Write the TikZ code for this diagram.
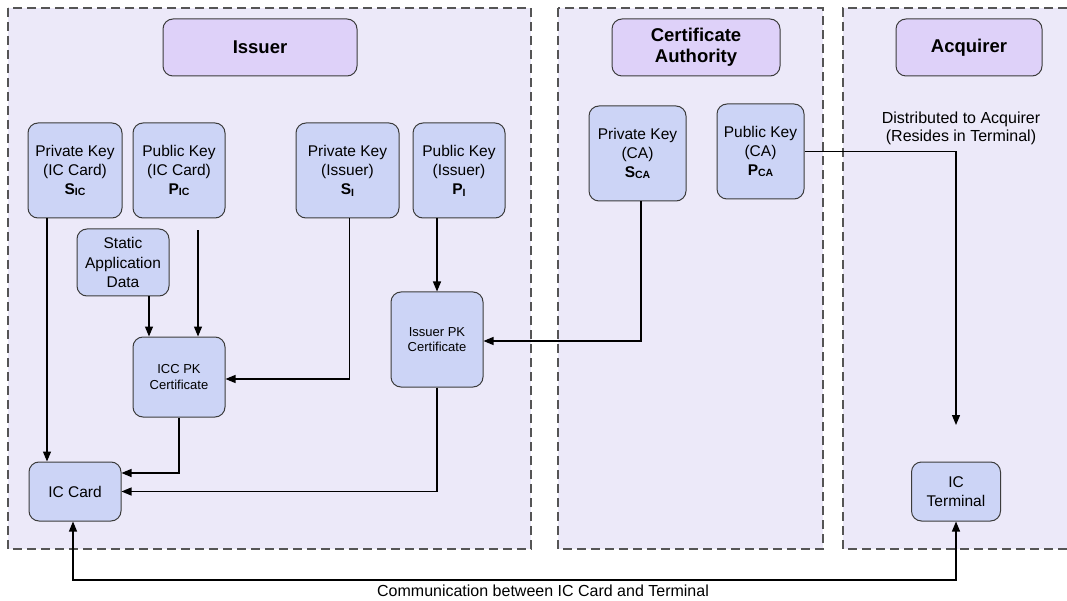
\documentclass[tikz,border=0pt]{standalone}
\usepackage{fontspec}
\setmainfont{Liberation Sans}
\usetikzlibrary{arrows.meta}
\definecolor{panelfill}{HTML}{ECE9F9}
\definecolor{titlefill}{HTML}{DED1F9}
\definecolor{keyfill}{HTML}{CCD4F6}
\definecolor{edge}{HTML}{3C3C3C}
\definecolor{dashc}{HTML}{555555}
\newcommand{\keysub}[2]{\textbf{#1}\raisebox{-1.2pt}{\fontsize{10.5}{10}\selectfont\bfseries #2}}
\tikzset{
  panel/.style={fill=panelfill, draw=dashc, line width=1.2pt, dash pattern=on 9pt off 5pt},
  titlebox/.style={draw=edge, fill=titlefill, line width=1pt, rounded corners=10pt,
    font=\fontsize{18.5}{21}\selectfont\bfseries, align=center, inner sep=0pt},
  keybox/.style={draw=edge, fill=keyfill, line width=1pt, rounded corners=10pt,
    font=\fontsize{15.5}{19.3}\selectfont, align=center, inner sep=0pt},
  smallbox/.style={keybox, font=\fontsize{13}{15.5}\selectfont},
  arr/.style={draw=black, line width=1.2pt, -{Triangle[length=10pt,width=8pt]}},
  arrboth/.style={draw=black, line width=1.2pt, {Triangle[length=10pt,width=8pt]}-{Triangle[length=10pt,width=8pt]}},
  plain/.style={font=\fontsize{16}{18}\selectfont, align=center, inner sep=0pt}
}
\begin{document}
\begin{tikzpicture}[x=1pt,y=-1pt]
\useasboundingbox (0,0) rectangle (1067,601);
\begin{scope}
\clip (0,0) rectangle (1067,601);
% panels
\path[panel] (8,8) rectangle (531,549);
\path[panel] (558,8) rectangle (823,549);
\fill[panelfill] (843,8) rectangle (1067,549);
\draw[dashc, line width=1.2pt, dash pattern=on 9pt off 5pt] (1067,8) -- (843,8) -- (843,549) -- (1067,549);
\end{scope}

% titles
\node[titlebox, minimum width=194pt, minimum height=57pt] (issuerT) at (260,47.5) {Issuer};
\node[titlebox, minimum width=168pt, minimum height=57pt] (caT) at (696,47.5) {Certificate\\Authority};
\node[titlebox, minimum width=146pt, minimum height=57pt] (acqT) at (969,47.5) {Acquirer};

% issuer keys
\node[keybox, minimum width=94pt, minimum height=95pt] (skIC) at (75,170.5) {Private Key\\(IC Card)\\\keysub{S}{IC}};
\node[keybox, minimum width=92pt, minimum height=95pt] (pkIC) at (179,170.5) {Public Key\\(IC Card)\\\keysub{P}{IC}};
\node[keybox, minimum width=103pt, minimum height=95pt] (skI) at (347.5,170.5) {Private Key\\(Issuer)\\\keysub{S}{I}};
\node[keybox, minimum width=92pt, minimum height=95pt] (pkI) at (459,170.5) {Public Key\\(Issuer)\\\keysub{P}{I}};
\node[keybox, minimum width=92pt, minimum height=67pt] (sad) at (123,262.5) {Static\\Application\\Data};
\node[smallbox, minimum width=92pt, minimum height=80pt] (iccpk) at (179,377) {ICC PK\\Certificate};
\node[smallbox, minimum width=92pt, minimum height=95pt] (ipk) at (437,339.5) {Issuer PK\\Certificate};
\node[keybox, minimum width=92pt, minimum height=59pt] (iccard) at (75,491.5) {IC Card};

% CA keys
\node[keybox, minimum width=97pt, minimum height=95pt] (skCA) at (637.5,153.5) {Private Key\\(CA)\\\keysub{S}{CA}};
\node[keybox, minimum width=87pt, minimum height=95pt] (pkCA) at (760.5,151.5) {Public Key\\(CA)\\\keysub{P}{CA}};

% acquirer
\node[plain] (dist) at (961,128) {Distributed to Acquirer\\(Resides in Terminal)};
\node[keybox, minimum width=89pt, minimum height=59pt] (term) at (956,491.5) {IC\\Terminal};
\coordinate (tend) at (956,425);

% connectors
\draw[arr] ([xshift=-28pt]skIC.south) -- ([xshift=-28pt]iccard.north);
\draw[arr, shorten <=12pt] ([xshift=19pt]pkIC.south) -- ([xshift=19pt]iccpk.north);
\draw[arr] ([xshift=26pt]sad.south) -- ([xshift=-30pt]iccpk.north);
\draw[arr] ([xshift=2pt]skI.south) |- ([yshift=-2pt]iccpk.east);
\draw[arr] (pkI.south -| ipk.north) -- (ipk.north);
\draw[arr] ([xshift=3.5pt]skCA.south) |- ([yshift=-1.5pt]ipk.east);
\draw[arr] (pkCA.east) -| (tend);
\draw[arr] (iccpk.south) |- ([yshift=18.5pt]iccard.east);
\draw[arr] (ipk.south) |- (iccard.east);

% communication
\coordinate (cL) at (73,580);
\coordinate (cR) at (956,580);
\draw[arrboth] ([xshift=-2pt]iccard.south) -- (cL) -- (cR) -- (term.south);
\node[plain] (comm) at (543,591) {Communication between IC Card and Terminal};
\end{tikzpicture}
\end{document}
